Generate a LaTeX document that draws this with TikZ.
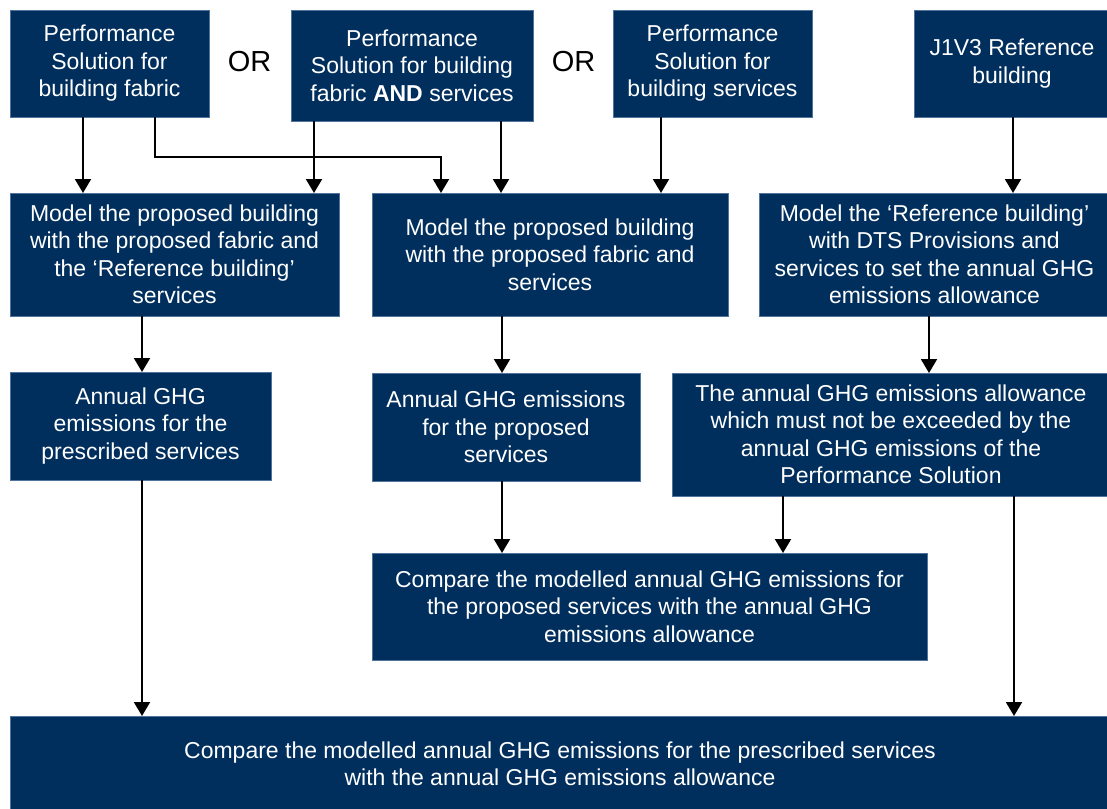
\documentclass[tikz,border=0pt]{standalone}
\usepackage{fontspec}
\setmainfont{Liberation Sans}
\usetikzlibrary{arrows.meta}
\definecolor{boxfill}{RGB}{0,47,93}
\definecolor{boxline}{RGB}{80,115,155}
\tikzset{
  box/.style={draw=boxline, line width=0.8pt, fill=boxfill, text=white, align=center,
    inner sep=0pt, outer sep=0pt, font=\fontsize{23pt}{27.5pt}\selectfont},
  arr/.style={draw=black, line width=2pt, -{Triangle[width=16pt,length=14pt]}},
  ortext/.style={text=black, font=\fontsize{29pt}{32pt}\selectfont}
}
\begin{document}
\begin{tikzpicture}[x=1pt,y=-1pt]
\useasboundingbox (0,0) rectangle (1107,808);
% top row
\node[box, minimum width=199pt, minimum height=107pt] (A) at (109.5,63.5) {Performance\\Solution for\\building fabric};
\node[box, minimum width=242pt, minimum height=111pt] (B) at (412,65.5) {Performance\\Solution for building\\fabric \textbf{AND} services};
\node[box, minimum width=199pt, minimum height=107pt] (C) at (712.5,63.5) {Performance\\Solution for\\building services};
\node[box, minimum width=196pt, minimum height=107pt] (D) at (1012,63.5) {J1V3 Reference\\building};
\node[ortext] (or1) at (249.5,61.5) {OR};
\node[ortext] (or2) at (573.5,61.5) {OR};
% second row
\node[box, minimum width=329pt, minimum height=123pt] (E) at (174.5,254.5) {Model the proposed building\\with the proposed fabric and\\the ‘Reference building’\\services};
\node[box, minimum width=356pt, minimum height=123pt] (F) at (550,254.5) {Model the proposed building\\with the proposed fabric and\\services};
\node[box, minimum width=351pt, minimum height=123pt] (G) at (934.5,254.5) {Model the ‘Reference building’\\with DTS Provisions and\\services to set the annual GHG\\emissions allowance};
% third row
\node[box, minimum width=261pt, minimum height=108pt] (H) at (140.5,426) {Annual GHG\\emissions for the\\prescribed services};
\node[box, minimum width=268pt, minimum height=108pt] (I) at (506,427) {Annual GHG emissions\\for the proposed\\services};
\node[box, minimum width=438pt, minimum height=123pt] (J) at (891,434.5) {The annual GHG emissions allowance\\which must not be exceeded by the\\annual GHG emissions of the\\Performance Solution};
% fourth row
\node[box, minimum width=555pt, minimum height=107pt] (K) at (649.5,606.5) {Compare the modelled annual GHG emissions for\\the proposed services with the annual GHG\\emissions allowance};
% bottom
\node[box, minimum width=1100pt, minimum height=96pt] (L) at (560,764) {Compare the modelled annual GHG emissions for the prescribed services\\with the annual GHG emissions allowance};
% connectors
\draw[arr] ([xshift=73pt]A.south west) -- ([xshift=73pt]E.north west);
\draw[arr] ([xshift=145pt]A.south west) -- ++(0,40) -| ([xshift=69pt]F.north west);
\draw[arr] ([xshift=23pt]B.south west) -- ([xshift=304pt]E.north west);
\draw[arr] ([xshift=210pt]B.south west) -- ([xshift=129pt]F.north west);
\draw[arr] ([xshift=48pt]C.south west) -- ([xshift=289pt]F.north west);
\draw[arr] ([xshift=99pt]D.south west) -- ([xshift=254pt]G.north west);
\draw[arr] ([xshift=132pt]E.south west) -- ([xshift=132pt]H.north west);
\draw[arr] ([xshift=130pt]F.south west) -- ([xshift=130pt]I.north west);
\draw[arr] ([xshift=170pt]G.south west) -- ([xshift=257pt]J.north west);
\draw[arr] ([xshift=132pt]H.south west) -- ([xshift=132pt]L.north west);
\draw[arr] ([xshift=130pt]I.south west) -- ([xshift=130pt]K.north west);
\draw[arr] ([xshift=111pt]J.south west) -- ([xshift=411pt]K.north west);
\draw[arr] ([xshift=342pt]J.south west) -- ([xshift=1004pt]L.north west);
\end{tikzpicture}
\end{document}
